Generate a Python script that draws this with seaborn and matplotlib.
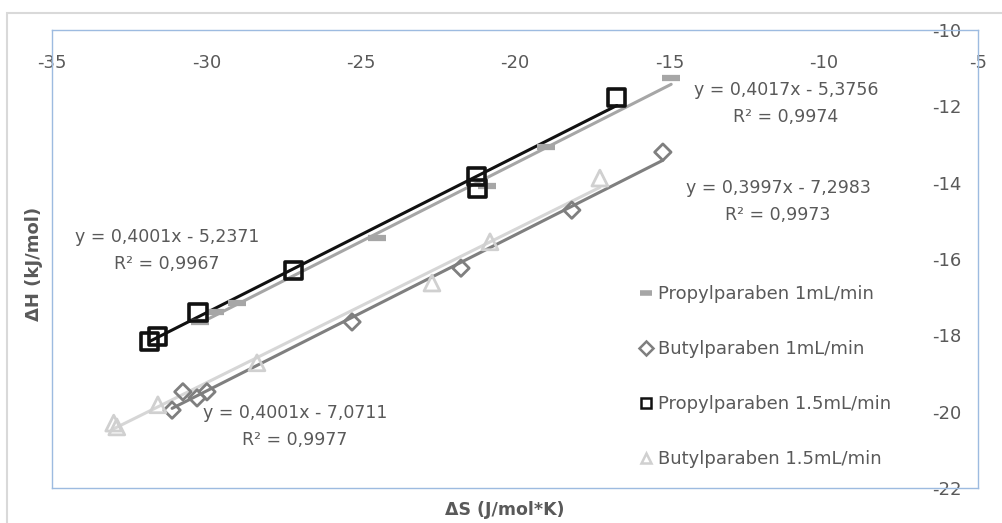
### -------------------- ###
###  Libraries
### -------------------- ###
import numpy as np
import pandas as pd
import matplotlib
matplotlib.use("Agg")
import matplotlib.pyplot as plt
from matplotlib.lines import Line2D
from matplotlib.patches import Rectangle
import seaborn as sns

### -------------------- ###
###  Data
### -------------------- ###
propyl_1_x = [-14.94, -18.98, -20.92, -24.48, -29.01, -29.72, -30.20]
propyl_1_y = [-11.26, -13.07, -14.09, -15.45, -17.15, -17.39, -17.65]

butyl_1_x = [-15.21, -18.16, -21.75, -25.28, -29.98, -30.30, -30.76, -31.11]
butyl_1_y = [-13.20, -14.72, -16.24, -17.65, -19.48, -19.64, -19.48, -19.96]

propyl_15_x = [-16.70, -21.26, -21.20, -27.19, -30.27, -31.57, -31.83]
propyl_15_y = [-11.76, -13.83, -14.14, -16.29, -17.41, -18.04, -18.15]

butyl_15_x = [-17.25, -20.81, -22.69, -28.36, -31.57, -32.90, -33.00]
butyl_15_y = [-13.88, -15.55, -16.63, -18.72, -19.82, -20.40, -20.30]

series_names = ["Propylparaben 1mL/min", "Butylparaben 1mL/min",
                "Propylparaben 1.5mL/min", "Butylparaben 1.5mL/min"]

equations = ["y = 0,4017x - 5,3756\nR² = 0,9974",
             "y = 0,3997x - 7,2983\nR² = 0,9973",
             "y = 0,4001x - 5,2371\nR² = 0,9967",
             "y = 0,4001x - 7,0711\nR² = 0,9977"]
eq_pos = [(-11.22, -11.93), (-11.48, -14.50), (-31.27, -15.78), (-27.13, -20.40)]

x_ticks = [-35, -30, -25, -20, -15, -10, -5]
y_ticks = [-22, -20, -18, -16, -14, -12, -10]

### -------------------- ###
###  Styles
### -------------------- ###
styles = [
    dict(marker="_", face="#a6a6a6", edge="#a6a6a6", s=170, lw=4.5, line="#a6a6a6"),
    dict(marker="D", face="none", edge="#7f7f7f", s=70, lw=2.0, line="#7f7f7f"),
    dict(marker="s", face="none", edge="#111111", s=150, lw=2.6, line="#111111"),
    dict(marker="^", face="none", edge="#d0d0d0", s=130, lw=2.0, line="#d6d6d6"),
]
text_col = "#595959"
frame_col = "#9dbbe0"

### -------------------- ###
###  Plot
### -------------------- ###
sns.set_style("white")
plt.rcParams["font.family"] = ["DejaVu Sans"]

fig = plt.figure(figsize=(10.03, 5.23), dpi=100)
fig.patches.append(Rectangle((7 / 1003, -0.1), 1.2, 1 - 13 / 523 + 0.1,
                             transform=fig.transFigure, fill=False,
                             edgecolor="#d9d9d9", lw=1.5))
ax = fig.add_axes([52 / 1003, 1 - 488 / 523, (978 - 52) / 1003, (488 - 30) / 523])

all_x = [propyl_1_x, butyl_1_x, propyl_15_x, butyl_15_x]
all_y = [propyl_1_y, butyl_1_y, propyl_15_y, butyl_15_y]

for xs, ys, st, name in zip(all_x, all_y, styles, series_names):
    df = pd.DataFrame({"dS": xs, "dH": ys})
    # linear trendline (Excel style)
    sns.regplot(data=df, x="dS", y="dH", ax=ax, scatter=False, ci=None,
                truncate=True, line_kws=dict(color=st["line"], lw=2.2, zorder=2))
    if st["marker"] == "_":
        sns.scatterplot(data=df, x="dS", y="dH", ax=ax, marker="_",
                        color=st["edge"], s=st["s"], linewidth=st["lw"], zorder=3)
    else:
        sns.scatterplot(data=df, x="dS", y="dH", ax=ax, marker=st["marker"],
                        facecolors="none", edgecolor=st["edge"], s=st["s"],
                        linewidth=st["lw"], zorder=3)

for (ex, ey), txt in zip(eq_pos, equations):
    ax.text(ex, ey, txt, ha="center", va="center", fontsize=12.5,
            color=text_col, linespacing=1.65)

ax.set_xlim(-35, -5)
ax.set_ylim(-22, -10)
ax.set_xticks(x_ticks)
ax.set_yticks(y_ticks)
ax.set_xticklabels([str(t) for t in x_ticks])
ax.set_yticklabels([str(t) for t in y_ticks])
ax.xaxis.tick_top()
ax.yaxis.tick_right()
ax.tick_params(axis="x", length=0, pad=-30, labelsize=13, labelcolor=text_col)
ax.tick_params(axis="y", length=0, pad=-33, labelsize=13, labelcolor=text_col)
for lab in ax.get_yticklabels():
    lab.set_horizontalalignment("left")
ax.set_xlabel("")
ax.set_ylabel("")
for sp in ax.spines.values():
    sp.set_color(frame_col)
    sp.set_linewidth(1.0)

fig.text(505 / 1003, 1 - 510 / 523, "ΔS (J/mol*K)", ha="center", va="center",
         fontsize=12.5, fontweight="bold", color=text_col)
fig.text(34 / 1003, 1 - 264 / 523, "ΔH (kJ/mol)", ha="center", va="center",
         rotation=90, fontsize=13, fontweight="bold", color=text_col)

# legend
handles = []
for st, name in zip(styles, series_names):
    if st["marker"] == "_":
        h = Line2D([], [], marker="_", ls="none", color=st["edge"],
                   markersize=9, markeredgewidth=4)
    else:
        h = Line2D([], [], marker=st["marker"], ls="none", markerfacecolor="none",
                   markeredgecolor=st["edge"], markersize=7.5, markeredgewidth=1.8)
    handles.append(h)
leg = ax.legend(handles, series_names, loc="upper left",
                bbox_to_anchor=((632 - 52) / 926, (488 - 278) / 458),
                frameon=False, fontsize=13, labelspacing=2.05,
                handlelength=0.8, handletextpad=0.25, borderaxespad=0)
for t in leg.get_texts():
    t.set_color(text_col)

fig.savefig("out.png", dpi=100)
